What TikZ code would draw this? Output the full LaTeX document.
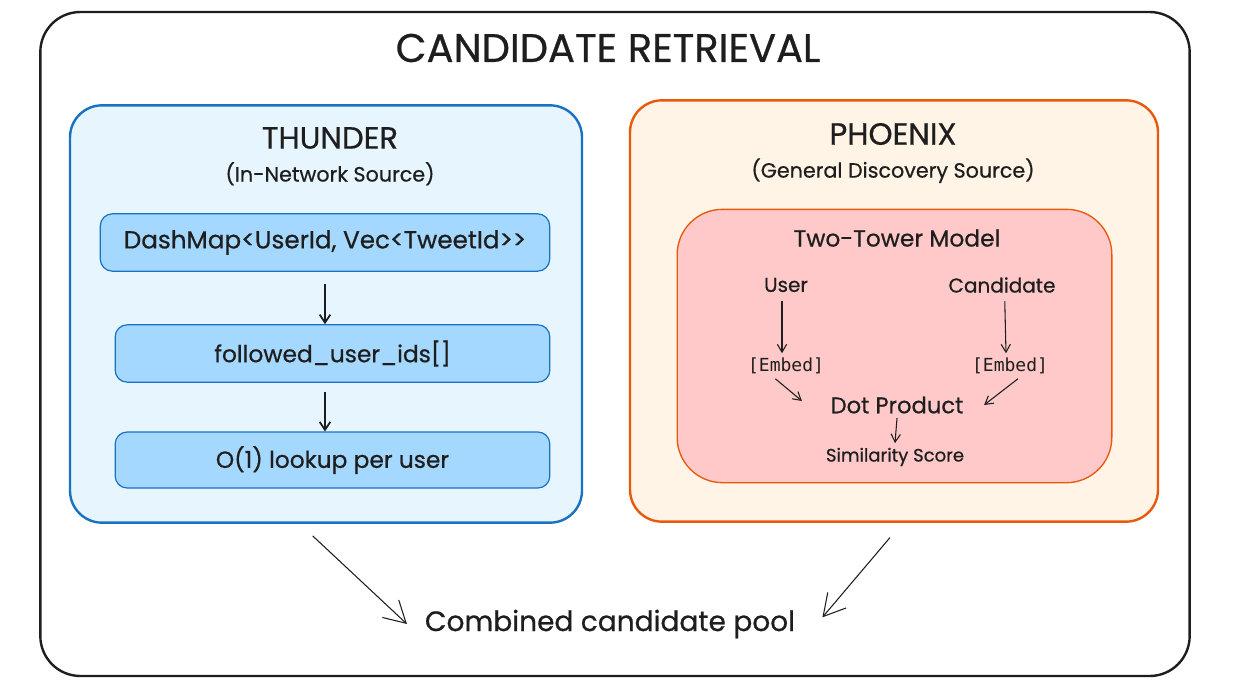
\documentclass[tikz,border=0pt]{standalone}
\usepackage{fontspec}
\setmainfont{Poppins}[FakeBold=0.6]
\setmonofont{DejaVu Sans Mono}
\usetikzlibrary{arrows.meta, positioning}
\definecolor{inkdark}{HTML}{1E1E1E}
\definecolor{thunderblue}{HTML}{1971C2}
\definecolor{thunderfill}{HTML}{E7F5FF}
\definecolor{thunderbox}{HTML}{A5D8FF}
\definecolor{phoenixorange}{HTML}{E8590C}
\definecolor{phoenixfill}{HTML}{FFF4E6}
\definecolor{towerfill}{HTML}{FFC9C9}

\begin{document}
\begin{tikzpicture}[
    x=0.75pt, y=-0.75pt,
    frame/.style={rectangle, draw=inkdark, line width=1.8pt, rounded corners=30pt, minimum width=862pt, minimum height=498pt},
    source/.style={rectangle, line width=1.8pt, rounded corners=24pt},
    stage/.style={rectangle, draw=thunderblue, fill=thunderbox, line width=0.9pt, rounded corners=9pt, minimum height=43pt, font=\fontsize{17.5}{20}\selectfont, text=inkdark},
    heading/.style={font=\fontsize{23}{26}\selectfont, text=inkdark},
    subheading/.style={font=\fontsize{15.5}{18}\selectfont, text=inkdark},
    label/.style={font=\fontsize{15}{18}\selectfont, text=inkdark},
    mono/.style={font=\ttfamily\fontsize{13.5}{16}\selectfont, text=inkdark},
    arrow/.style={-{Straight Barb[length=6pt, width=8pt]}, line width=1.3pt, inkdark},
    thinarrow/.style={-{Straight Barb[length=6pt, width=7pt]}, line width=0.8pt, inkdark},
    poolarrow/.style={-{Straight Barb[length=16pt, width=18pt]}, line width=0.8pt, inkdark}
]
\useasboundingbox (0,0) rectangle (1242,692);

% Outer frame
\node[frame] (retrieval) at (615,344) {};
\node[font=\fontsize{30}{34}\selectfont, text=inkdark] (title) at (608,48) {CANDIDATE RETRIEVAL};

% Thunder: in-network source
\node[source, draw=thunderblue, fill=thunderfill, minimum width=384pt, minimum height=313pt] (thunder) at (326,314) {};
\node[heading] (thunder_name) at (330,138) {THUNDER};
\node[subheading, below=3pt of thunder_name] (thunder_sub) {(In-Network Source)};
\node[stage, minimum width=337pt, font=\fontsize{18.5}{21}\selectfont] (dashmap) at (325,242.5) {DashMap<UserId, Vec<TweetId>{}>};
\node[stage, minimum width=326pt] (followed) at (332.5,353.5) {followed\_user\_ids[]};
\node[stage, minimum width=326pt, minimum height=42pt] (lookup) at (332.5,460) {O(1) lookup per user};

% Phoenix: general discovery source
\node[source, draw=phoenixorange, fill=phoenixfill, minimum width=396pt, minimum height=316pt] (phoenix) at (894,311) {};
\node[heading] (phoenix_name) at (893,134) {PHOENIX};
\node[subheading, below=3pt of phoenix_name] (phoenix_sub) {(General Discovery Source)};
\node[rectangle, draw=phoenixorange, fill=towerfill, line width=1pt, rounded corners=34pt, minimum width=326pt, minimum height=205pt] (tower) at (894.5,346) {};
\node[label, font=\fontsize{17.5}{20}\selectfont] (tower_name) at (897,238) {Two-Tower Model};
\node[label] (user) at (786,285) {User};
\node[label] (cand) at (1002,285) {Candidate};
\node[mono] (embed_user) at (786,366) {[Embed]};
\node[mono] (embed_cand) at (1010,366) {[Embed]};
\node[label, font=\fontsize{17}{20}\selectfont] (dot) at (897,405) {Dot Product};
\node[font=\fontsize{13.5}{16}\selectfont, text=inkdark] (score) at (895,457) {Similarity Score};

% Result
\node[font=\fontsize{21}{25}\selectfont, text=inkdark] (pool) at (610,624) {Combined candidate pool};

% Thunder arrows
\draw[arrow, shorten <=9pt] (dashmap.south) -- (dashmap.south |- followed.north);
\draw[arrow, shorten <=7pt] (followed.south -| dashmap.south) -- (dashmap.south |- lookup.north);

% Tower arrows
\draw[thinarrow, shorten <=3pt] ([xshift=-3pt]user.south) -- ([xshift=-3pt]embed_user.north);
\draw[thinarrow, shorten <=3pt] ([xshift=2pt]cand.south) -- ([xshift=-3pt]embed_cand.north);
\draw[thinarrow] ([xshift=-8pt]embed_user.south) -- ([xshift=-18pt, yshift=3pt]dot.west);
\draw[thinarrow] ([xshift=6pt]embed_cand.south) -- ([xshift=12pt, yshift=0pt]dot.east);
\draw[thinarrow] (dot.south) -- (score.north);

% Into the pool
\draw[poolarrow] ([xshift=-10pt, yshift=-9pt]thunder.south) -- ([xshift=-10pt, yshift=0pt]pool.west);
\draw[poolarrow] ([xshift=-3pt, yshift=-11pt]phoenix.south) -- ([xshift=17pt, yshift=5pt]pool.east);

\end{tikzpicture}
\end{document}
